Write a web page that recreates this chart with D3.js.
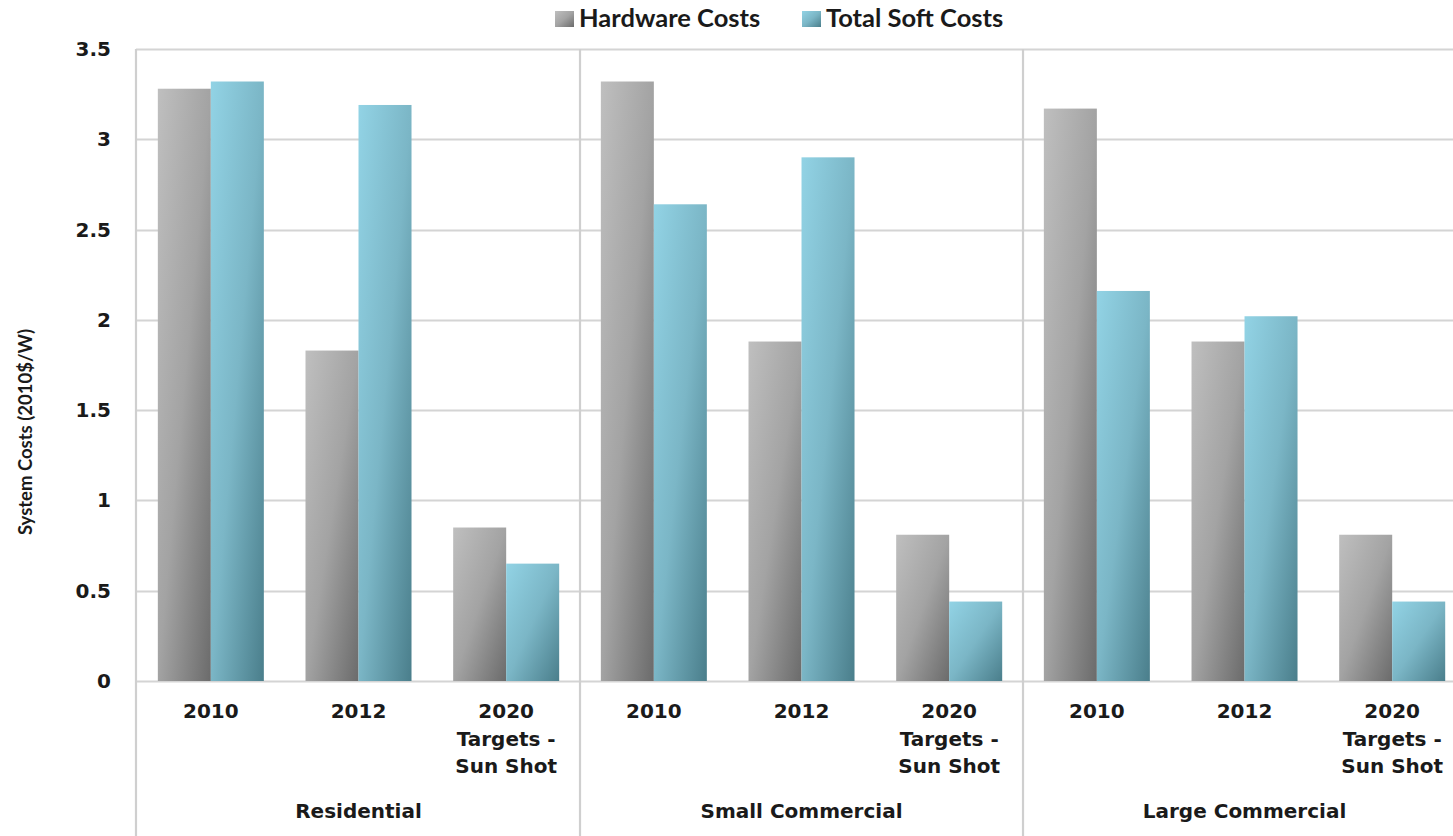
<!DOCTYPE html>
<html>
<head>
<meta charset="utf-8">
<script src="https://cdn.jsdelivr.net/npm/d3@7/dist/d3.min.js"></script>
<style>
  html, body { margin: 0; padding: 0; background: #fff; overflow: hidden; }
  svg { display: block; }
</style>
</head>
<body>
<svg id="chart" width="1453" height="836"></svg>
<script>
// Installed-system cost breakdown by market segment (2010$/W)
const segments = ["Residential", "Small Commercial", "Large Commercial"];
const periods = ["2010", "2012", "2020 Targets - Sun Shot"];
const periodLines = [["2010"], ["2012"], ["2020", "Targets -", "Sun Shot"]];
const seriesNames = ["Hardware Costs", "Total Soft Costs"];
const hardwareCosts = [3.28, 1.83, 0.85, 3.32, 1.88, 0.81, 3.17, 1.88, 0.81];
const softCosts = [3.32, 3.19, 0.65, 2.64, 2.90, 0.44, 2.16, 2.02, 0.44];
const yTicks = [0, 0.5, 1, 1.5, 2, 2.5, 3, 3.5];

const W = 1453, H = 836;
const plotLeft = 137, plotTop = 49, plotBottom = 681;
const svg = d3.select("#chart");

// one row per segment/period pair
const rows = [];
segments.forEach((s, si) => periods.forEach((p, pi) => {
  const i = si * periods.length + pi;
  rows.push({ key: s + "|" + p, seg: si, per: pi, values: [hardwareCosts[i], softCosts[i]] });
}));

const x0 = d3.scaleBand().domain(rows.map(r => r.key)).range([plotLeft, plotLeft + 9 * 147.67]).padding(0);
const x1 = d3.scaleBand().domain(seriesNames).range([0, x0.bandwidth()]).paddingInner(0).paddingOuter(0.393);
const y = d3.scaleLinear().domain([0, 3.5]).range([plotBottom, plotTop]);

// diagonal shading for the bars
const defs = svg.append("defs");
const grads = [
  { id: "g-hw", stops: ["#bfbfbf", "#a3a3a3", "#6b6b6b"] },
  { id: "g-soft", stops: ["#92d3e5", "#7bb6c6", "#4a7e8b"] }
];
grads.forEach(g => {
  const lg = defs.append("linearGradient").attr("id", g.id)
    .attr("x1", 0).attr("y1", 0).attr("x2", 1).attr("y2", 1);
  g.stops.forEach((c, i) => lg.append("stop").attr("offset", i / (g.stops.length - 1)).attr("stop-color", c));
});
const fills = ["url(#g-hw)", "url(#g-soft)"];

// gridlines
svg.append("g").selectAll("line").data(yTicks).join("line")
  .attr("x1", plotLeft - 1).attr("x2", W)
  .attr("y1", d => Math.round(y(d)) + 0.5).attr("y2", d => Math.round(y(d)) + 0.5)
  .attr("stroke", "#d4d4d4").attr("stroke-width", 2.2);

// vertical axis line and segment dividers
const dividers = [plotLeft - 1, x0(rows[3].key), x0(rows[6].key)];
svg.append("g").selectAll("line").data(dividers).join("line")
  .attr("x1", d => d).attr("x2", d => d)
  .attr("y1", plotTop).attr("y2", H)
  .attr("stroke", "#cfcfcf").attr("stroke-width", 2.2);

// bars
const groups = svg.append("g").selectAll("g").data(rows).join("g")
  .attr("transform", d => `translate(${x0(d.key)},0)`);
groups.selectAll("rect").data(d => d.values.map((v, i) => ({ v, i }))).join("rect")
  .attr("x", d => x1(seriesNames[d.i]))
  .attr("width", x1.bandwidth())
  .attr("y", d => y(d.v))
  .attr("height", d => plotBottom - y(d.v))
  .attr("fill", d => fills[d.i]);

// y tick labels
const tickFont = "'DejaVu Sans', sans-serif";
svg.append("g").selectAll("text").data(yTicks).join("text")
  .attr("x", 111).attr("y", d => y(d) + 7)
  .attr("text-anchor", "end")
  .attr("font-family", tickFont).attr("font-weight", "bold").attr("font-size", 20)
  .attr("fill", "#1a1a1a")
  .text(d => d3.format("")(d));

// period labels (wrapped)
const lab = svg.append("g").selectAll("text").data(rows).join("text")
  .attr("text-anchor", "middle")
  .attr("font-family", tickFont).attr("font-weight", "bold").attr("font-size", 20)
  .attr("fill", "#1a1a1a");
lab.selectAll("tspan").data(d => periodLines[d.per].map(t => ({ t, x: x0(d.key) + x0.bandwidth() / 2 })))
  .join("tspan")
  .attr("x", d => d.x)
  .attr("y", (d, i) => 718 + i * 27.5)
  .text(d => d.t);

// segment labels
svg.append("g").selectAll("text").data(segments).join("text")
  .attr("x", (d, i) => x0(rows[i * 3 + 1].key) + x0.bandwidth() / 2)
  .attr("y", 818)
  .attr("text-anchor", "middle")
  .attr("font-family", tickFont).attr("font-weight", "bold").attr("font-size", 20)
  .attr("fill", "#1a1a1a")
  .text(d => d);

// y axis title
svg.append("text")
  .attr("transform", "translate(32,432) rotate(-90)")
  .attr("text-anchor", "middle")
  .attr("font-family", "Lato, sans-serif").attr("font-weight", "bold").attr("font-size", 18.5)
  .attr("fill", "#1a1a1a")
  .text("System Costs (2010$/W)");

// legend
const legendX = [555, 802];
const leg = svg.append("g").selectAll("g").data(seriesNames).join("g")
  .attr("transform", (d, i) => `translate(${legendX[i]},11)`);
leg.append("rect").attr("width", 19).attr("height", 16).attr("fill", (d, i) => fills[i]);
leg.append("text").attr("x", 24).attr("y", 16)
  .attr("font-family", "Lato, sans-serif").attr("font-weight", "bold").attr("font-size", 25.5)
  .attr("fill", "#1a1a1a")
  .text(d => d);
</script>
</body>
</html>
